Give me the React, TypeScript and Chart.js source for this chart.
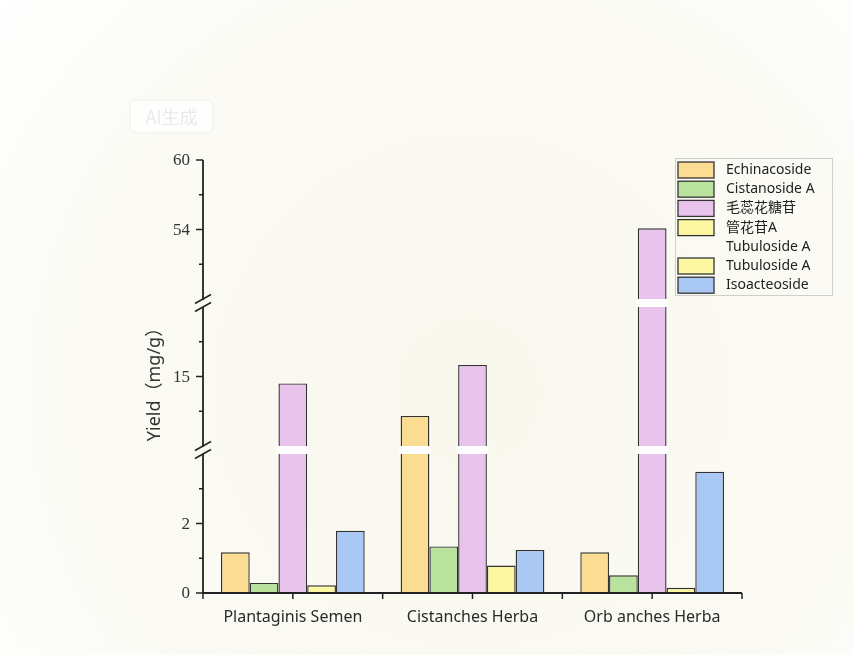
import { useEffect, useRef } from 'react';
import { Chart, registerables, LinearScale } from 'chart.js';

Chart.register(...registerables);

// Sample groups on the x axis
const categories = ['Plantaginis Semen', 'Cistanches Herba', 'Orb anches Herba'];

// Yield of each compound (mg/g), one value per sample group
const echinacoside = [1.17, 11.6, 1.17];
const cistanosideA = [0.29, 1.34, 0.51];
const verbascoside = [14.4, 16.0, 54.1];
const tubulosideA = [0.22, 0.79, 0.15];
const isoacteoside = [1.79, 1.24, 3.49];

const seriesNames = ['Echinacoside', 'Cistanoside A', '毛蕊花糖苷', 'Tubuloside A', 'Isoacteoside'];
const seriesValues = [echinacoside, cistanosideA, verbascoside, tubulosideA, isoacteoside];
const seriesColors = ['#FBDC93', '#B9E29D', '#E8C4EC', '#FCF8A2', '#A9C8F3'];

// Legend rows: label text and which series colour it uses (-1 = text only)
const legendLabels = ['Echinacoside', 'Cistanoside A', '毛蕊花糖苷', '管花苷A', 'Tubuloside A', 'Tubuloside A', 'Isoacteoside'];
const legendSwatch = [0, 1, 2, 3, -1, 3, 4];

// Broken y axis: visible value ranges, bottom to top
const axisSegments: [number, number][] = [[0, 4], [9, 21], [48, 60]];
const majorTicks = [0, 2, 15, 54, 60];
const minorTicks = [1, 3, 12, 18, 51, 57];

const SEGMENT_GAP = 8;

// Linear scale split into equal-height pieces separated by small gaps
class BrokenLinearScale extends LinearScale {
  static id = 'brokenLinear';
  static defaults = LinearScale.defaults;

  segHeight() {
    const n = axisSegments.length;
    return (this.bottom - this.top - SEGMENT_GAP * (n - 1)) / n;
  }

  getPixelForValue(value: number) {
    const h = this.segHeight();
    let i = axisSegments.findIndex(([, hi]) => value <= hi);
    if (i < 0) i = axisSegments.length - 1;
    const [lo, hi] = axisSegments[i];
    const v = Math.min(Math.max(value, lo), hi);
    const base = this.bottom - i * (h + SEGMENT_GAP);
    return base - ((v - lo) / (hi - lo)) * h;
  }

  getValueForPixel(pixel: number) {
    const h = this.segHeight();
    for (let i = 0; i < axisSegments.length; i++) {
      const base = this.bottom - i * (h + SEGMENT_GAP);
      if (pixel >= base - h - SEGMENT_GAP / 2 || i === axisSegments.length - 1) {
        const [lo, hi] = axisSegments[i];
        return lo + ((base - pixel) / h) * (hi - lo);
      }
    }
    return 0;
  }
}
Chart.register(BrokenLinearScale);

const INK = '#222222';

const decorations = {
  id: 'decorations',
  beforeDraw(chart: any) {
    const { ctx, width, height } = chart;
    ctx.save();
    const g = ctx.createRadialGradient(470, 390, 60, 470, 390, 620);
    g.addColorStop(0, '#F9F8EF');
    g.addColorStop(0.6, '#FBFAF4');
    g.addColorStop(1, '#FFFFFF');
    ctx.fillStyle = g;
    ctx.fillRect(0, 0, width, height);

    // faint badge in the upper left
    ctx.beginPath();
    ctx.roundRect(130, 100, 83, 33, 6);
    ctx.fillStyle = 'rgba(255,255,255,0.8)';
    ctx.fill();
    ctx.strokeStyle = 'rgba(230,230,230,0.6)';
    ctx.lineWidth = 1;
    ctx.stroke();
    ctx.fillStyle = '#EAEAEA';
    ctx.font = '18px "Noto Sans CJK SC", "Noto Sans", sans-serif';
    ctx.textAlign = 'center';
    ctx.textBaseline = 'middle';
    ctx.fillText('AI生成', 171.5, 117);
    ctx.restore();
  },
  afterDatasetsDraw(chart: any) {
    const { ctx } = chart;
    const y = chart.scales.y;
    ctx.save();
    ctx.fillStyle = '#FFFFFF';
    for (let i = 0; i < axisSegments.length - 1; i++) {
      const gapBottom = y.getPixelForValue(axisSegments[i][1]);
      const gapTop = y.getPixelForValue(axisSegments[i + 1][0]);
      chart.data.datasets.forEach((_: any, di: number) => {
        chart.getDatasetMeta(di).data.forEach((el: any) => {
          const p = el.getProps(['x', 'y', 'width'], true);
          if (p.y < gapTop) {
            ctx.fillRect(p.x - p.width / 2 - 1.5, gapTop, p.width + 3, gapBottom - gapTop);
          }
        });
      });
    }
    ctx.restore();
  },
  afterDraw(chart: any) {
    const { ctx, chartArea: area } = chart;
    const y = chart.scales.y;
    const x = chart.scales.x;
    ctx.save();
    ctx.strokeStyle = INK;
    ctx.fillStyle = INK;
    ctx.lineCap = 'butt';

    // y axis pieces with break marks
    const ax = area.left;
    ctx.lineWidth = 1.8;
    axisSegments.forEach(([lo, hi]) => {
      ctx.beginPath();
      ctx.moveTo(ax, y.getPixelForValue(lo) + 0.9);
      ctx.lineTo(ax, y.getPixelForValue(hi));
      ctx.stroke();
    });
    ctx.lineWidth = 1.5;
    for (let i = 0; i < axisSegments.length - 1; i++) {
      [y.getPixelForValue(axisSegments[i][1]), y.getPixelForValue(axisSegments[i + 1][0])].forEach((py: number) => {
        ctx.beginPath();
        ctx.moveTo(ax - 8, py + 4.5);
        ctx.lineTo(ax + 8, py - 4.5);
        ctx.stroke();
      });
    }

    // y ticks and labels
    ctx.lineWidth = 1.5;
    majorTicks.forEach((v) => {
      const py = y.getPixelForValue(v);
      ctx.beginPath();
      ctx.moveTo(ax - 7, py);
      ctx.lineTo(ax, py);
      ctx.stroke();
    });
    minorTicks.forEach((v) => {
      const py = y.getPixelForValue(v);
      ctx.beginPath();
      ctx.moveTo(ax - 4, py);
      ctx.lineTo(ax, py);
      ctx.stroke();
    });
    ctx.fillStyle = '#333333';
    ctx.font = '17px "Liberation Serif", serif';
    ctx.textAlign = 'right';
    ctx.textBaseline = 'middle';
    majorTicks.forEach((v) => {
      ctx.fillText(String(v), ax - 13, y.getPixelForValue(v) + 1);
    });

    // y title
    ctx.save();
    ctx.translate(155, 380);
    ctx.rotate(-Math.PI / 2);
    ctx.textAlign = 'center';
    ctx.font = '18px "Noto Sans", "Noto Sans CJK SC", sans-serif';
    ctx.fillStyle = '#333333';
    ctx.fillText('Yield（mg/g）', 0, 0);
    ctx.restore();

    // x axis
    const by = area.bottom;
    ctx.strokeStyle = INK;
    ctx.lineWidth = 1.8;
    ctx.beginPath();
    ctx.moveTo(area.left, by);
    ctx.lineTo(area.right, by);
    ctx.stroke();
    ctx.lineWidth = 1.5;
    const tickXs: number[] = [area.left, area.right];
    categories.forEach((_, i) => {
      const cx = x.getPixelForValue(i);
      tickXs.push(cx);
      if (i < categories.length - 1) tickXs.push((cx + x.getPixelForValue(i + 1)) / 2);
    });
    tickXs.forEach((tx) => {
      ctx.beginPath();
      ctx.moveTo(tx, by);
      ctx.lineTo(tx, by + 6);
      ctx.stroke();
    });
    ctx.fillStyle = '#2A2A2A';
    ctx.font = '16px "Noto Sans", sans-serif';
    ctx.textAlign = 'center';
    ctx.textBaseline = 'middle';
    categories.forEach((c, i) => ctx.fillText(c, x.getPixelForValue(i), by + 24));

    // legend
    const lx = 675;
    const ly = 158;
    ctx.strokeStyle = '#CFCFCF';
    ctx.lineWidth = 1;
    ctx.strokeRect(lx + 0.5, ly + 0.5, 157, 137);
    ctx.font = '14px "Noto Sans", "Noto Sans CJK SC", sans-serif';
    ctx.textAlign = 'left';
    ctx.textBaseline = 'middle';
    legendLabels.forEach((label, i) => {
      const ry = ly + 12 + i * 19.2;
      const si = legendSwatch[i];
      if (si >= 0) {
        ctx.fillStyle = seriesColors[si];
        ctx.fillRect(lx + 3, ry - 8, 36, 16);
        ctx.strokeStyle = '#333333';
        ctx.lineWidth = 1.3;
        ctx.strokeRect(lx + 3, ry - 8, 36, 16);
      }
      ctx.fillStyle = '#222222';
      ctx.fillText(label, lx + 51, ry);
    });
    ctx.restore();
  },
};

export default function App() {
  const ref = useRef<HTMLCanvasElement>(null);
  useEffect(() => {
    document.body.style.margin = '0';
    const chart = new Chart(ref.current as HTMLCanvasElement, {
      type: 'bar',
      data: {
        labels: categories,
        datasets: seriesNames.map((name, i) => ({
          label: name,
          data: seriesValues[i],
          backgroundColor: seriesColors[i],
          borderColor: '#333333',
          borderWidth: 1.4,
          categoryPercentage: 0.8,
          barPercentage: 1,
        })),
      },
      options: {
        animation: false,
        responsive: false,
        devicePixelRatio: 1,
        layout: { padding: { left: 203, top: 160, right: 111, bottom: 62 } },
        scales: {
          x: { display: false, offset: true },
          y: { type: 'brokenLinear', display: false, min: 0, max: 60 } as any,
        },
        plugins: { legend: { display: false }, tooltip: { enabled: false } },
      },
      plugins: [decorations],
    });
    return () => chart.destroy();
  }, []);
  return <canvas ref={ref} width={853} height={655} style={{ display: 'block' }} />;
}
